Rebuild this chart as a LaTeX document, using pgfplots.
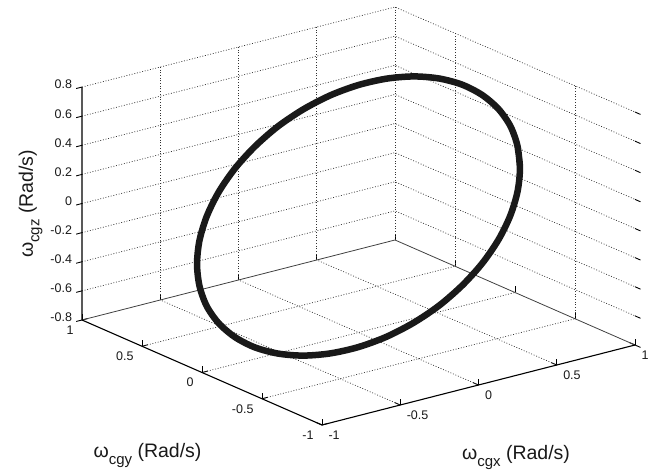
\documentclass[border=0pt]{standalone}
\usepackage{fontspec}
\setmainfont{Liberation Sans}
\usepackage{pgfplots}
\pgfplotsset{compat=1.18}
\usetikzlibrary{calc}
\newcommand{\lab}[1]{\fontsize{19.5}{19.5}\selectfont ω\raisebox{-6.5pt}{\fontsize{15}{15}\selectfont #1} (Rad/s)}
\begin{document}
\begin{tikzpicture}
\begin{axis}[
  x={(156.5pt,40pt)}, y={(-120pt,52.5pt)}, z={(0pt,145.6pt)},
  xmin=-1,xmax=1,ymin=-1,ymax=1,zmin=-0.8,zmax=0.8,
  xtick={-1,-0.5,0,0.5,1}, ytick={-1,-0.5,0,0.5,1},
  ztick={-0.8,-0.6,-0.4,-0.2,0,0.2,0.4,0.6,0.8},
  axis line style={draw=none},
  tick pos=left,
  ztick align=outside,
  major tick length=6pt,
  tick style={black, line width=0.9pt},
  tick label style={font=\fontsize{12.5}{12.5}\selectfont, text=black!90},
  xticklabel style={anchor=north west, xshift=3pt, yshift=-2pt},
  yticklabel style={anchor=north east, xshift=-5pt, yshift=-2pt},
  zticklabel style={anchor=east, xshift=-1pt},
  /pgf/number format/assume math mode=true,
  clip=false,
  grd/.style={black!80, line width=0.7pt, dash pattern=on 0.9pt off 1.8pt},
]
% grid on back plane y=1
\addplot3[grd] coordinates {(-0.5,1,-0.8) (-0.5,1,0.8)};
\addplot3[grd] coordinates {(0,1,-0.8) (0,1,0.8)};
\addplot3[grd] coordinates {(0.5,1,-0.8) (0.5,1,0.8)};
\addplot3[grd] coordinates {(1,1,-0.8) (1,1,0.8)};
\foreach \zz in {-0.6,-0.4,-0.2,0,0.2,0.4,0.6,0.8}{
  \edef\tmp{\noexpand\addplot3[grd] coordinates {(-1,1,\zz) (1,1,\zz) (1,-1,\zz)};}
  \tmp
}
% grid on back plane x=1
\addplot3[grd] coordinates {(1,0.5,-0.8) (1,0.5,0.8)};
\addplot3[grd] coordinates {(1,-0.5,-0.8) (1,-0.5,0.8)};
% floor grid
\addplot3[grd] coordinates {(-0.5,-1,-0.8) (-0.5,1,-0.8)};
\addplot3[grd] coordinates {(0,-1,-0.8) (0,1,-0.8)};
\addplot3[grd] coordinates {(0.5,-1,-0.8) (0.5,1,-0.8)};
\addplot3[grd] coordinates {(-1,-0.5,-0.8) (1,-0.5,-0.8)};
\addplot3[grd] coordinates {(-1,0,-0.8) (1,0,-0.8)};
\addplot3[grd] coordinates {(-1,0.5,-0.8) (1,0.5,-0.8)};
% floor back edges
\addplot3[black!75, line width=0.8pt] coordinates {(-1,1,-0.8) (1,1,-0.8) (1,-1,-0.8)};
% axes
\addplot3[black, line width=1.1pt] coordinates {(-1,1,0.8) (-1,1,-0.8) (-1,-1,-0.8) (1,-1,-0.8)};
% curve
\addplot3[line width=6.5pt, black!90, smooth, line join=round] coordinates {
(0.600,-0.563,0.368) (0.684,-0.433,0.449) (0.748,-0.290,0.517) (0.788,-0.138,0.569)
(0.805,0.019,0.603) (0.797,0.174,0.620) (0.765,0.325,0.617) (0.710,0.465,0.596)
(0.633,0.592,0.556) (0.537,0.700,0.500) (0.425,0.787,0.429) (0.299,0.850,0.344)
(0.165,0.888,0.249) (0.026,0.898,0.146) (-0.114,0.881,0.040) (-0.251,0.838,-0.069)
(-0.380,0.769,-0.175) (-0.498,0.676,-0.276) (-0.600,0.563,-0.368) (-0.684,0.433,-0.449)
(-0.748,0.290,-0.517) (-0.788,0.138,-0.569) (-0.805,-0.019,-0.603) (-0.797,-0.174,-0.620)
(-0.765,-0.325,-0.617) (-0.710,-0.465,-0.596) (-0.633,-0.592,-0.556) (-0.537,-0.700,-0.500)
(-0.425,-0.787,-0.429) (-0.299,-0.850,-0.344) (-0.165,-0.888,-0.249) (-0.026,-0.898,-0.146)
(0.114,-0.881,-0.040) (0.251,-0.838,0.069) (0.380,-0.769,0.175) (0.498,-0.676,0.276)
(0.600,-0.563,0.368) (0.684,-0.433,0.449)
};
\coordinate (A) at (axis cs:-1,-1,-0.8);
\end{axis}
\node[text=black!90, anchor=base] at ($(A)+(194pt,-35pt)$) {\lab{cgx}};
\node[text=black!90, anchor=base] at ($(A)+(-174.5pt,-33pt)$) {\lab{cgy}};
\node[text=black!90, rotate=90, anchor=base] at ($(A)+(-289pt,221pt)$) {\lab{cgz}};
\pgfresetboundingbox
\path[use as bounding box] ($(A)+(-322pt,-45pt)$) rectangle ($(A)+(333pt,425pt)$);
\end{tikzpicture}
\end{document}
